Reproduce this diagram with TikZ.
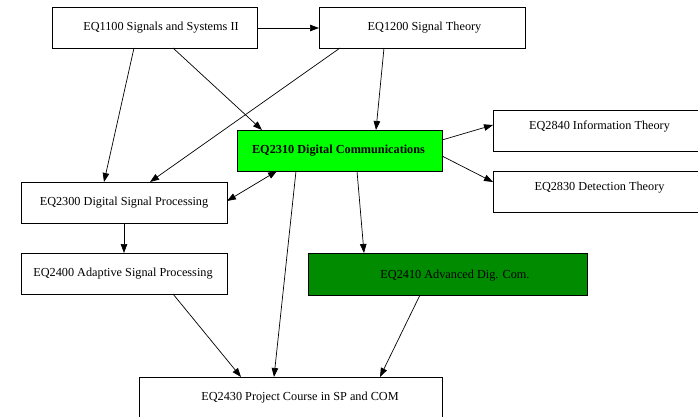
\documentclass[tikz,border=0pt]{standalone}
\usepackage{fontspec}
\setmainfont{Liberation Serif}
\usetikzlibrary{arrows.meta,calc}
\definecolor{brightgreen}{RGB}{0,255,0}
\definecolor{darkgr}{RGB}{0,139,0}
\tikzset{
  box/.style={draw=black, line width=0.8pt, minimum height=41pt, inner sep=0pt, outer sep=0pt, fill=white},
  txt/.style={inner sep=0pt, font=\fontsize{12.25}{14}\selectfont},
  edge/.style={line width=0.7pt, -{Triangle[length=9pt,width=6.5pt]}},
  dedge/.style={line width=0.7pt, {Triangle[length=9pt,width=6.5pt]}-{Triangle[length=9pt,width=6.5pt]}}
}
\begin{document}
\begin{tikzpicture}[x=1pt,y=-1pt]
\useasboundingbox (0,0) rectangle (698,417);
\fill[white] (0,0) rectangle (698,417);
% boxes
\node[box, minimum width=205pt] (n1100) at (154.5,27.5) {};
\node[box, minimum width=206pt] (n1200) at (422,27.5) {};
\node[box, minimum width=205pt, fill=brightgreen] (n2310) at (339.5,150.5) {};
\node[box, minimum width=213pt] (n2840) at (599.5,130.5) {};
\node[box, minimum width=213pt] (n2830) at (599.5,192) {};
\node[box, minimum width=206pt] (n2300) at (124,202.5) {};
\node[box, minimum width=206pt] (n2400) at (124,273.5) {};
\node[box, minimum width=279pt, minimum height=42pt, fill=darkgr] (n2410) at (447.5,274) {};
\node[box, minimum width=303pt] (n2430) at (290.5,397.5) {};
% texts
\node[txt] (t1100) at ($(n1100.center)+(6.5,0)$) {EQ1100 Signals and Systems II};
\node[txt] (t1200) at ($(n1200.center)+(2.5,0)$) {EQ1200 Signal Theory};
\node[txt] (t2310) at ($(n2310.center)+(-1,0)$) {\bfseries EQ2310 Digital Communications};
\node[txt] (t2840) at ($(n2840.center)+(0,-3.5)$) {EQ2840 Information Theory};
\node[txt] (t2830) at ($(n2830.center)+(0,-4)$) {EQ2830 Detection Theory};
\node[txt] (t2300) at (n2300.center) {EQ2300 Digital Signal Processing};
\node[txt] (t2400) at ($(n2400.center)+(-1,0)$) {EQ2400 Adaptive Signal Processing};
\node[txt] (t2410) at ($(n2410.center)+(7.5,2)$) {EQ2410 Advanced Dig. Com.};
\node[txt] (t2430) at ($(n2430.center)+(9.5,0.5)$) {EQ2430 Project Course in SP and COM};
% edges
\draw[edge] ([yshift=-0.5pt]n1100.east) -- ([yshift=-0.5pt]n1200.west);
\draw[edge] ([xshift=82pt]n1100.south west) -- ([xshift=83pt]n2300.north west);
\draw[edge] ([xshift=121pt]n1100.south west) -- ([xshift=25pt]n2310.north west);
\draw[edge] ([xshift=21pt]n1200.south west) -- ([xshift=129pt]n2300.north west);
\draw[edge] ([xshift=65pt]n1200.south west) -- ([xshift=139pt]n2310.north west);
\draw[edge] ([yshift=10.5pt]n2310.east) -- ([yshift=5.5pt]n2840.west);
\draw[edge] ([yshift=-5.5pt]n2310.east) -- ([yshift=10pt]n2830.west);
\draw[dedge] ([xshift=40pt]n2310.south west) -- ([yshift=1.5pt]n2300.east);
\draw[edge] (n2300.south) -- (n2400.north);
\draw[edge] ([xshift=59pt]n2310.south west) -- ([xshift=135pt]n2430.north west);
\draw[edge] ([xshift=120pt]n2310.south west) -- ([xshift=56pt]n2410.north west);
\draw[edge] ([xshift=152pt]n2400.south west) -- ([xshift=102pt]n2430.north west);
\draw[edge] ([xshift=112pt]n2410.south west) -- ([xshift=241pt]n2430.north west);
\end{tikzpicture}
\end{document}
